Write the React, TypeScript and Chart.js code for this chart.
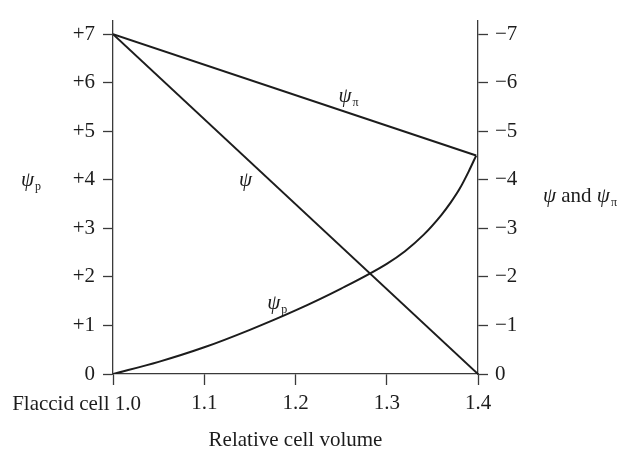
import { useEffect, useRef } from 'react';
import { Chart, registerables } from 'chart.js';

Chart.register(...registerables);

// Relative cell volume ticks and potential ticks
const xTickValues = [1.0, 1.1, 1.2, 1.3, 1.4];
const yTickValues = [0, 1, 2, 3, 4, 5, 6, 7];

// ψ (water potential, shown as magnitude) — straight line
const psiVolumes = [1.0, 1.4];
const psiValues = [7, 0];

// ψπ (osmotic potential, magnitude)
const psiPiVolumes = [1.0, 1.398];
const psiPiValues = [7, 4.5];

// ψp (pressure potential) curve
const psiPVolumes = [1.0, 1.05, 1.1, 1.15, 1.2, 1.25, 1.3, 1.32, 1.34, 1.36, 1.37, 1.38, 1.39, 1.398];
const psiPValues = [0, 0.25, 0.55, 0.91, 1.31, 1.76, 2.27, 2.53, 2.86, 3.28, 3.53, 3.82, 4.18, 4.5];

const SERIF = '"Liberation Serif", "Times New Roman", serif';
const INK = '#1c1c1c';
const AXIS = '#3a3a3a';

const toPoints = (xs: number[], ys: number[]) => xs.map((x, i) => ({ x, y: ys[i] }));

function drawPsi(ctx: CanvasRenderingContext2D, x: number, y: number, sub: string) {
  ctx.font = `italic 21px ${SERIF}`;
  ctx.textAlign = 'left';
  ctx.textBaseline = 'alphabetic';
  ctx.fillText('ψ', x, y);
  const w = ctx.measureText('ψ').width;
  if (sub) {
    ctx.font = `12px ${SERIF}`;
    ctx.fillText(sub, x + w + 1, y + 4);
  }
  return w;
}

const labelsPlugin = {
  id: 'labels',
  afterDraw(chart: any) {
    const ctx = chart.ctx as CanvasRenderingContext2D;
    const xs = chart.scales.x;
    const ys = chart.scales.y;
    ctx.save();
    ctx.fillStyle = INK;

    // in-plot curve labels (anchored in data coordinates)
    drawPsi(ctx, xs.getPixelForValue(1.247), ys.getPixelForValue(5.6), 'π');
    drawPsi(ctx, xs.getPixelForValue(1.138), ys.getPixelForValue(3.88), '');
    drawPsi(ctx, xs.getPixelForValue(1.169), ys.getPixelForValue(1.33), 'p');

    // left axis title ψp
    drawPsi(ctx, 21, 186, 'p');

    // right axis title "ψ and ψπ"
    let x = 543;
    const by = 202;
    x += drawPsi(ctx, x, by, '');
    ctx.font = `21px ${SERIF}`;
    ctx.fillText(' and ', x, by);
    x += ctx.measureText(' and ').width;
    drawPsi(ctx, x, by, 'π');

    // x axis: flaccid label at 1.0
    ctx.font = `21px ${SERIF}`;
    ctx.textAlign = 'right';
    ctx.textBaseline = 'middle';
    ctx.fillText('Flaccid cell 1.0', xs.getPixelForValue(1.0) + 28, 404);

    // x axis title
    ctx.textAlign = 'center';
    ctx.fillText('Relative cell volume', (xs.left + xs.right) / 2, 440);
    ctx.restore();
  },
};

export default function App() {
  const ref = useRef<HTMLCanvasElement>(null);

  useEffect(() => {
    document.body.style.margin = '0';
    const tickFont = { family: SERIF, size: 21 };
    const gridCfg = {
      drawOnChartArea: false,
      drawTicks: true,
      tickLength: 10,
      tickWidth: 1.3,
      color: AXIS,
    };
    const borderCfg = { display: true, color: AXIS, width: 1.3 };
    const chart = new Chart(ref.current!, {
      type: 'scatter',
      data: {
        datasets: [
          {
            label: 'ψ',
            data: toPoints(psiVolumes, psiValues),
            showLine: true,
            borderColor: INK,
            borderWidth: 2,
            pointRadius: 0,
            yAxisID: 'y',
          },
          {
            label: 'ψπ',
            data: toPoints(psiPiVolumes, psiPiValues),
            showLine: true,
            borderColor: INK,
            borderWidth: 2,
            pointRadius: 0,
            yAxisID: 'y',
          },
          {
            label: 'ψp',
            data: toPoints(psiPVolumes, psiPValues),
            showLine: true,
            borderColor: INK,
            borderWidth: 2,
            pointRadius: 0,
            cubicInterpolationMode: 'monotone',
            yAxisID: 'y',
          },
        ],
      },
      options: {
        responsive: false,
        maintainAspectRatio: false,
        animation: false,
        layout: { padding: { top: 13, left: 0, right: 0, bottom: 0 } },
        plugins: { legend: { display: false }, tooltip: { enabled: false } },
        scales: {
          x: {
            type: 'linear',
            position: 'bottom',
            min: 1.0,
            max: 1.4,
            afterBuildTicks: (s: any) => {
              s.ticks = xTickValues.map((v) => ({ value: v }));
            },
            afterFit: (s: any) => {
              s.height = 75;
            },
            ticks: {
              font: tickFont,
              color: INK,
              padding: 6,
              maxRotation: 0,
              callback: (v: any) => (Math.abs(v - 1) < 1e-9 ? '' : Number(v).toFixed(1)),
            },
            grid: { ...gridCfg, tickLength: 11 },
            border: borderCfg,
          },
          y: {
            type: 'linear',
            position: 'left',
            min: 0,
            max: 7.28,
            afterBuildTicks: (s: any) => {
              s.ticks = yTickValues.map((v) => ({ value: v }));
            },
            afterFit: (s: any) => {
              s.width = 113;
            },
            ticks: {
              font: tickFont,
              color: INK,
              padding: 8,
              callback: (v: any) => (v > 0 ? '+' + v : '0'),
            },
            grid: gridCfg,
            border: borderCfg,
          },
          y2: {
            type: 'linear',
            position: 'right',
            display: true,
            min: 0,
            max: 7.28,
            afterBuildTicks: (s: any) => {
              s.ticks = yTickValues.map((v) => ({ value: v }));
            },
            afterFit: (s: any) => {
              s.width = 142;
            },
            ticks: {
              font: tickFont,
              color: INK,
              padding: 7,
              callback: (v: any) => (v > 0 ? '\u2212' + v : '0'),
            },
            grid: gridCfg,
            border: borderCfg,
          },
        },
      },
      plugins: [labelsPlugin],
    } as any);
    return () => chart.destroy();
  }, []);

  return (
    <div style={{ width: 620, height: 449 }}>
      <canvas ref={ref} width={620} height={449} style={{ display: 'block' }} />
    </div>
  );
}
